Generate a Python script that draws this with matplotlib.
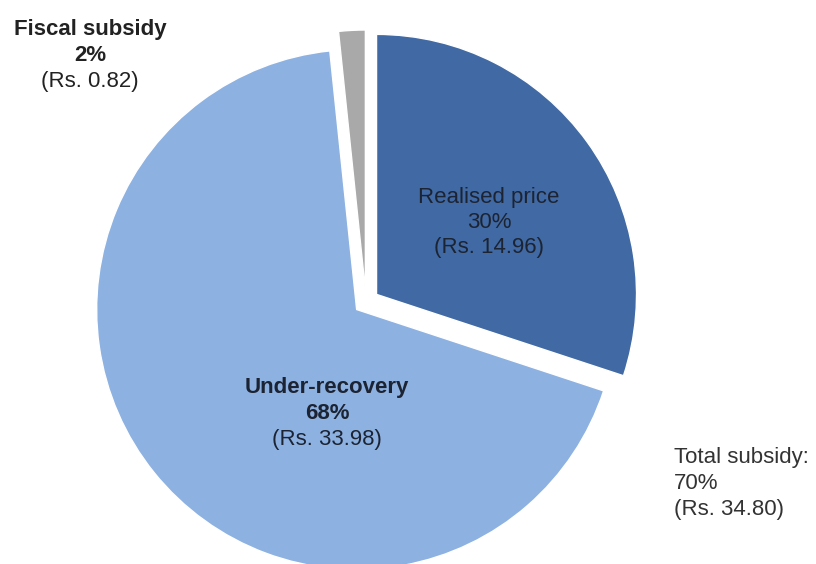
import matplotlib.pyplot as plt

plt.rcParams['font.family'] = ['Liberation Sans', 'DejaVu Sans']

# Price build-up shares (Rs. per unit)
names = ['Realised price', 'Under-recovery', 'Fiscal subsidy']
amounts = [14.96, 33.98, 0.82]
shares = ['30%', '68%', '2%']
colors = ['#4169a3', '#8db1e1', '#a9a9a9']
explode = [13, 12, 12]  # pie offsets are in data units (pixels here)

total_share = '70%'
total_amount = 34.80

W, H = 816, 564
fig = plt.figure(figsize=(W / 100, H / 100), dpi=100)
ax = fig.add_axes([0, 0, 1, 1])

ax.pie(amounts, colors=colors, explode=explode, startangle=90,
       counterclock=False, radius=260, center=(366, H - 302),
       wedgeprops=dict(edgecolor='white', linewidth=1))
ax.set_xlim(0, W)
ax.set_ylim(0, H)
ax.set_aspect('equal')
ax.axis('off')


def label(x, y, lines, bold_lines, color, ha='center', size=16, step=25.5):
    for i, s in enumerate(lines):
        ax.text(x, H - (y + i * step), s, ha=ha, va='center', fontsize=size,
                color=color, fontweight='bold' if i < bold_lines else 'normal')


label(489, 197, [names[0], shares[0], f'(Rs. {amounts[0]:.2f})'], 0, '#1c2433')
label(327, 388, [names[1], shares[1], f'(Rs. {amounts[1]:.2f})'], 2, '#1c2433')
label(90, 30, [names[2], shares[2], f'(Rs. {amounts[2]:.2f})'], 2, '#222222')
label(674, 458, ['Total subsidy:', total_share, f'(Rs. {total_amount:.2f})'], 0,
      '#333333', ha='left')

fig.savefig('out.png', dpi=100)
